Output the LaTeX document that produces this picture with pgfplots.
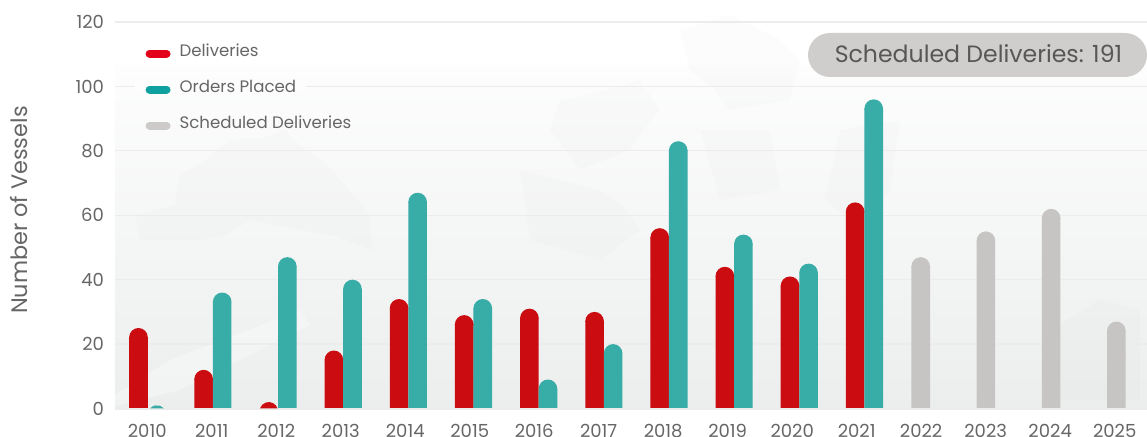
\documentclass[border=0pt]{standalone}
\usepackage{fontspec}
\setmainfont{Poppins}
\usepackage{pgfplots}
\usepackage{pgfplotstable}
\pgfplotsset{compat=1.18}
\definecolor{delred}{HTML}{CB0D11}
\definecolor{ordteal}{HTML}{38ACA6}
\definecolor{schgray}{HTML}{C6C5C3}
\definecolor{legred}{HTML}{E2001A}
\definecolor{legteal}{HTML}{0FA0A0}
\definecolor{leggray}{HTML}{CCCBCA}
\definecolor{pill}{HTML}{CFCECC}
\definecolor{txt}{HTML}{666666}
\definecolor{gridc}{HTML}{ECECEC}
\definecolor{bgtop}{HTML}{FDFDFD}
\definecolor{bgbot}{HTML}{ECEEEE}

% pos: where the bars stand; they drift a little from the year labels, as in the reference
\pgfplotstableread{
pos del ord
2010.008 25 1
2011.018 12 36
2012.028 2 47
2013.038 18 40
2014.048 34 67
2015.058 29 34
2016.069 31 9
2017.079 30 20
2018.089 56 83
2019.099 44 54
2020.109 41 45
2021.119 64 96
}\hist
\pgfplotstableread{
pos sch
2021.992 47
2023.003 55
2024.014 62
2025.025 27
}\sched

% round bar tops: half circle on the bar, and cut-off caps for bars lower than the radius
\pgfdeclareplotmark{dome}{%
  \pgfpathmoveto{\pgfqpoint{-\pgfplotmarksize}{-.3pt}}%
  \pgfpathlineto{\pgfqpoint{-\pgfplotmarksize}{0pt}}%
  \pgfpatharc{180}{0}{\pgfplotmarksize}%
  \pgfpathlineto{\pgfqpoint{\pgfplotmarksize}{-.3pt}}%
  \pgfpathclose\pgfusepathqfill}
\newcommand\declarecap[2]{\pgfdeclareplotmark{#1}{%
  \pgfpathmoveto{\pgfpointpolar{#2}{\pgfplotmarksize}}%
  \pgfpatharc{#2}{180-#2}{\pgfplotmarksize}%
  \pgfpathclose\pgfusepathqfill}}
\declarecap{capone}{40.8}
\declarecap{captwo}{17.9}

% bars are 18.6px wide
\pgfplotsset{
  rbar/.style={ybar, bar shift=0pt, bar width=9.3pt, draw=none, fill=#1,
    mark=dome, mark size=4.65pt, mark options={fill=#1}},
}

\begin{document}
\begin{tikzpicture}
\useasboundingbox (-57.5pt,-14.25pt) rectangle (516pt,204.25pt);
\shade[top color=bgtop, bottom color=bgbot] (0,0) rectangle (516pt,171.25pt);
% faint map behind the bars, coordinates in reference pixels
\begin{scope}[shift={(-57.5pt,204.25pt)}, x=.5pt, y=-.5pt]
  \fill[black, opacity=.012] (180,175) -- (205,160) -- (230,140) -- (262,138) -- (285,130) -- (305,150) -- (322,160) -- (345,185) -- (370,215) -- (372,250) -- (335,236) -- (300,230) -- (250,220) -- (225,236) -- (200,240) -- (140,240) -- (135,215) -- (175,205) -- cycle;
  \fill[black, opacity=.012] (560,100) -- (600,92) -- (640,80) -- (660,110) -- (645,128) -- (630,150) -- (580,170) -- (566,150) -- (550,130) -- cycle;
  \fill[black, opacity=.012] (680,30) -- (730,15) -- (760,30) -- (778,38) -- (800,60) -- (790,100) -- (730,110) -- (712,88) -- (690,70) -- cycle;
  \fill[black, opacity=.012] (840,130) -- (900,120) -- (890,190) -- (860,230) -- (825,200) -- cycle;
  \fill[black, opacity=.012] (520,170) -- (600,190) -- (622,205) -- (640,230) -- (600,260) -- (530,240) -- cycle;
  \fill[black, opacity=.012] (700,130) -- (770,130) -- (780,190) -- (720,200) -- cycle;
  \fill[black, opacity=.01] (1050,330) -- (1100,300) -- (1140,310) -- (1140,400) -- (1060,400) -- cycle;
  \fill[white, opacity=.3] (115,395) -- (170,360) -- (300,310) -- (310,325) -- (180,390) -- (115,406) -- cycle;
\end{scope}
\begin{axis}[
  at={(0,-5.152pt)}, anchor=south west,
  scale only axis, width=516pt, height=198.352pt,
  xmin=2009.5, xmax=2025.5, ymin=-3.2, ymax=120,
  xtick={2010,...,2025}, ytick={0,20,...,120},
  major tick length=0pt,
  ymajorgrids, grid style={gridc, line width=.6pt},
  axis line style={draw=none},
  /pgf/number format/assume math mode=true,
  /pgf/number format/1000 sep={},
  tick label style={font=\fontsize{9}{11}\selectfont, text=txt},
  xticklabel style={yshift=0.6pt, text height=6.4pt, text depth=0pt},
  yticklabel style={xshift=-2pt},
  ylabel={Number of Vessels},
  every axis y label/.style={at={(axis description cs:-0.093,0.526)}, rotate=90, anchor=center,
    font=\fontsize{11.2}{13}\selectfont, text=txt},
  legend image code/.code={\draw[#1] (0,-1pt) -- (8.5pt,-1pt);},
  legend style={at={(axis cs:2009.968,115)}, anchor=north west, draw=none, fill=none,
    inner sep=0pt, font=\fontsize{8.3}{10}\selectfont, text=txt,
    row sep=5pt, legend cell align=left,
    /tikz/column 1/.style={column sep=3.5pt},
    nodes={inner sep=1pt, minimum height=13pt}},
]
% grid is interrupted behind the legend row at 100
\fill[bgtop] (axis cs:2009.81,98) rectangle (axis cs:2012.46,102);

\addlegendimage{line width=4pt, line cap=round, legred}
\addlegendentry{Deliveries}
\addlegendimage{line width=4pt, line cap=round, legteal}
\addlegendentry{Orders Placed}
\addlegendimage{line width=4pt, line cap=round, leggray}
\addlegendentry{Scheduled Deliveries}

\addplot[rbar=delred, forget plot, mark indices={1,2,4,5,6,7,8,9,10,11,12}] table[x expr=\thisrow{pos}-0.144, y expr=\thisrow{del}-2.89] {\hist};
\addplot[rbar=ordteal, forget plot, mark indices={2,3,4,5,6,7,8,9,10,11,12}] table[x expr=\thisrow{pos}+0.144, y expr=\thisrow{ord}-2.89] {\hist};
\addplot[rbar=schgray, forget plot] table[x=pos, y expr=\thisrow{sch}-2.89] {\sched};
% 2010 orders (1) and 2012 deliveries (2) are lower than the cap radius
\addplot[only marks, forget plot, mark=capone, mark size=4.65pt, mark options={draw=none, fill=ordteal}] coordinates {(2010.152,-1.89)};
\addplot[only marks, forget plot, mark=captwo, mark size=4.65pt, mark options={draw=none, fill=delred}] coordinates {(2011.884,-0.89)};

% bars that fall below zero stay hidden
\fill[white] (axis cs:2009.5,-3.2) rectangle (axis cs:2025.5,0);
\draw[gridc, line width=.6pt] (axis cs:2009.5,-0.15) -- (axis cs:2025.5,-0.15);
\end{axis}
\begin{scope}[shift={(-57.5pt,204.25pt)}, x=.5pt, y=-.5pt]
  \fill[pill, rounded corners=11pt] (808,33) rectangle (1147,77);
  \node[font=\fontsize{11.8}{14}\selectfont, text=txt!85!black] at (978.5,53.8) {Scheduled Deliveries: 191};
\end{scope}
\end{tikzpicture}
\end{document}
